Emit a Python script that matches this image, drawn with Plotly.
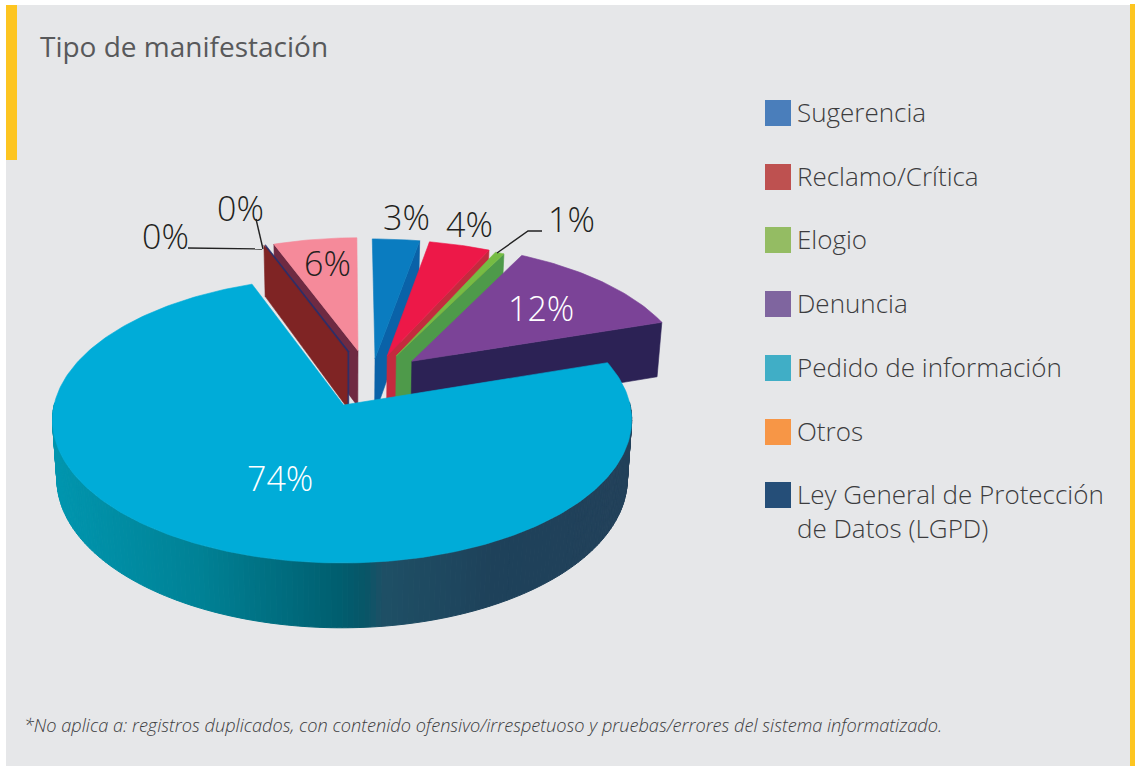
import math
import plotly.graph_objects as go

# ---- data ----
categories = ["Sugerencia", "Reclamo/Crítica", "Elogio", "Denuncia",
              "Pedido de información", "Otros", "Ley General de Protección<br>de Datos (LGPD)", "Sin categoría"]
values = [3, 4, 0.6, 12.4, 74.4, 0, 0, 5.6]
labels = ["3%", "4%", "1%", "12%", "74%", "0%", "0%", "6%"]
legend_colors = ["#4a7ebb", "#be5150", "#94bc63", "#7f659f", "#40aec6", "#f79646", "#254e78"]
face_colors = ["#0a7cc0", "#ed1848", "#76bc43", "#7b4397", "#00acd8", "#7f2424", "#2b2f6a", "#f58a9a"]
wall_colors = ["#0a62a8", "#c42a3e", "#4e9a4a", "#2c2255", "#1f5f75", "#7f2424", "#2b2f6a", "#6f2a42"]
# explosion of each slice in the pie plane, and its radius
pull_u = [0.108, 0.152, 0.185, 0.24, -0.01, 0.008, 0.014, 0.047]
pull_v = [0.34, 0.36, 0.36, 0.32, 0.0, 0.39, 0.395, 0.40]
apex_shift = [0, 0, 0, 0, 0.005, 0, 0, 0]
radius = [1, 0.97, 0.95, 0.98, 1, 0.95, 0.95, 0.95]
draw_order = [7, 6, 5, 0, 1, 2, 3, 4]
wall_stops = [(55, (0, 150, 175)), (200, (0, 130, 150)), (340, (0, 95, 112)), (368, (8, 86, 104)),
              (385, (30, 80, 102)), (500, (30, 65, 90)), (630, (35, 65, 90))]

# ---- projection ----
CX, CY, A, B, P, D, SHRINK = 345, 405, 288, 141.4, 0.105, 58, 0.985


def proj(u, v, low=False):
    w = 1 + P * v
    s = SHRINK if low else 1
    return CX + A * u * s / w, CY - B * v / w + (D / w if low else 0)


def arc(i, a0, a1, n=None):
    n = n or max(2, int(abs(a1 - a0)) + 2)
    out = []
    for k in range(n):
        t = math.radians(a0 + (a1 - a0) * k / (n - 1))
        out.append((pull_u[i] + radius[i] * math.sin(t), pull_v[i] + radius[i] * math.cos(t)))
    return out


fig = go.Figure()


def poly(points, color, lw=0.6):
    xs = [p[0] for p in points] + [points[0][0]]
    ys = [p[1] for p in points] + [points[0][1]]
    fig.add_trace(go.Scatter(x=xs, y=ys, mode="lines", fill="toself", fillcolor=color,
                             line=dict(color=color, width=lw), hoverinfo="skip", showlegend=False))


def wall_color(x):
    if x <= wall_stops[0][0]:
        return "rgb(%d,%d,%d)" % wall_stops[0][1]
    for (x0, c0), (x1, c1) in zip(wall_stops, wall_stops[1:]):
        if x <= x1:
            f = (x - x0) / (x1 - x0)
            return "rgb(%d,%d,%d)" % tuple(c0[j] + (c1[j] - c0[j]) * f for j in range(3))
    return "rgb(%d,%d,%d)" % wall_stops[-1][1]


total = sum(values)
starts = []
acc = 0
for val in values:
    starts.append(acc / total * 360)
    acc += val

for i in draw_order:
    a0 = starts[i]
    a1 = a0 + values[i] / total * 360
    apex = (pull_u[i] + apex_shift[i], pull_v[i])
    # radial walls that face the viewer
    walls = []
    if math.sin(math.radians(a0)) < -1e-6:
        walls.append(a0)
    if math.sin(math.radians(a1)) > 1e-6:
        walls.append(a1)
    for ang in walls:
        o = arc(i, ang, ang, 2)[0]
        poly([proj(*apex), proj(*o), proj(*o, low=True), proj(*apex, low=True)], wall_colors[i])
    # outer wall, gradient along the rim
    rim = arc(i, a0, a1)
    for (p, q) in zip(rim, rim[1:]):
        mv = (p[1] + q[1]) / 2
        if mv < pull_v[i] + 0.02:
            xm = proj(*p)[0]
            poly([proj(*p), proj(*q), proj(*q, low=True), proj(*p, low=True)], wall_color(xm), lw=1)
    # top face
    if values[i] > 0:
        poly([proj(*apex)] + [proj(*r) for r in rim], face_colors[i])

# leader lines (pixel axes)
fig.add_trace(go.Scatter(x=[188, 262, None, 256, 263, None, 497, 528, 542],
                         y=[248, 249, None, 219, 249, None, 253, 231, 231],
                         mode="lines", line=dict(color="#222222", width=1.4),
                         hoverinfo="skip", showlegend=False))

# legend swatches
legend_y = [113, 177, 240, 304, 368, 432, 495]
fig.add_trace(go.Scatter(x=[778] * 7, y=legend_y, mode="markers",
                         marker=dict(symbol="square", size=26, color=legend_colors, line=dict(width=0)),
                         hoverinfo="skip", showlegend=False))

FONT = "Open Sans"
ann = []
for name, y in zip(categories[:7], legend_y):
    yy = y + 17 if "<br>" in name else y
    ann.append(dict(x=795, y=yy - 1, text=name, xanchor="left", yanchor="middle", align="left", showarrow=False,
                    font=dict(family=FONT, size=26, color="#3c3c3e", weight=300)))
label_pos = [(406, 217), (469, 224), (571, 219), (541, 308), (280, 478), (165, 236), (240, 208), (327, 263)]
label_col = ["#231f20", "#231f20", "#231f20", "#ffffff", "#ffffff", "#231f20", "#231f20", "#231f20"]
for t, (x, y), c in zip(labels, label_pos, label_col):
    ann.append(dict(x=x, y=y, text=t, xanchor="center", yanchor="middle", showarrow=False,
                    font=dict(family=FONT, size=34, color=c, weight=300)))
ann.append(dict(x=38, y=46, text="Tipo de manifestación", xanchor="left", yanchor="middle", showarrow=False,
                font=dict(family=FONT, size=28, color="#58595b")))
ann.append(dict(x=22, y=725, text="<i>*No aplica a: registros duplicados, con contenido ofensivo/irrespetuoso y pruebas/errores del sistema informatizado.</i>",
                xanchor="left", yanchor="middle", showarrow=False,
                font=dict(family=FONT, size=18.2, color="#3c3c3e", weight=300)))

shapes = [
    dict(type="rect", layer="below", x0=6, x1=1130, y0=5, y1=766, fillcolor="#e6e7e9", line=dict(width=0)),
    dict(type="rect", layer="below", x0=6, x1=17, y0=5, y1=160, fillcolor="#fdc521", line=dict(width=0)),
    dict(type="rect", layer="below", x0=1130, x1=1135, y0=4, y1=766, fillcolor="#fdc521", line=dict(width=0)),
]

fig.update_layout(width=1135, height=766, margin=dict(l=0, r=0, t=0, b=0), paper_bgcolor="#ffffff",
                  plot_bgcolor="rgba(0,0,0,0)", showlegend=False, shapes=shapes, annotations=ann,
                  xaxis=dict(range=[0, 1135], visible=False, fixedrange=True),
                  yaxis=dict(range=[766, 0], visible=False, fixedrange=True))
fig.write_html("out.html", post_script="document.body.style.margin='0';", config=dict(displayModeBar=False))
